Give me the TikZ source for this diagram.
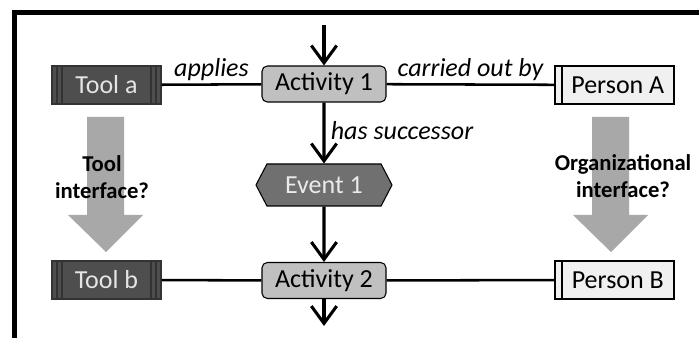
\documentclass[tikz,border=0pt]{standalone}
\usepackage{fontspec}
\setmainfont{Carlito}
\usepackage{tikz}
\usetikzlibrary{shapes.symbols, arrows.meta, positioning}
\definecolor{tooldark}{RGB}{78, 78, 78}
\definecolor{eventgray}{RGB}{112, 112, 112}
\definecolor{actgray}{RGB}{192, 192, 192}
\definecolor{personlight}{RGB}{240, 240, 240}
\definecolor{ifacegray}{RGB}{168, 168, 168}

\begin{document}
\begin{tikzpicture}[
  x=0.75pt, y=-0.75pt,
  font=\fontsize{19.5}{23}\selectfont,
  toolbox/.style={rectangle, draw=black!80, thick, fill=tooldark, text=white!90!black,
                  minimum width=81.75pt, minimum height=28.5pt, inner sep=0pt,
                  path picture={
                    \foreach \dx in {3.75pt, 7.5pt} {
                      \draw[black!80] ([xshift=\dx]path picture bounding box.north west) -- ([xshift=\dx]path picture bounding box.south west);
                      \draw[black!80] ([xshift=-\dx]path picture bounding box.north east) -- ([xshift=-\dx]path picture bounding box.south east);
                    }}},
  activity/.style={rectangle, rounded corners=4pt, draw=black, thick, fill=actgray,
                   minimum width=93pt, minimum height=27pt, inner sep=0pt},
  person/.style={rectangle, draw=black, thick, fill=personlight,
                 minimum width=89.25pt, minimum height=28.5pt, inner sep=0pt,
                 path picture={
                   \draw[black, thick] ([xshift=5.25pt]path picture bounding box.north west) -- ([xshift=5.25pt]path picture bounding box.south west);
                 }},
  event/.style={signal, signal to=west and east, signal pointer angle=125, draw=black, thick, fill=eventgray,
                text=white!92!black, minimum width=102pt, minimum height=31.5pt, inner sep=0pt},
  link/.style={line width=1.9pt},
  flow/.style={line width=2.3pt, -{Straight Barb[length=13pt, width=19pt, line width=2.3pt]}},
  lbl/.style={font=\fontsize{19.5}{23}\selectfont\itshape, inner sep=2pt},
  iface/.style={font=\fontsize{17}{20}\selectfont\bfseries, align=center}
]
\useasboundingbox (0,0) rectangle (699,338);

% Frame
\draw[line width=3.75pt] (14,338) -- (14,12.5) -- (699,12.5);

% Interface arrows
\fill[ifacegray] (87,117) -- (124,117) -- (124,215) -- (143,215) -- (106,252) -- (68,215) -- (87,215) -- cycle;
\fill[ifacegray] (592,117) -- (629,117) -- (629,215) -- (648,215) -- (611,252) -- (573,215) -- (592,215) -- cycle;

% First row
\node[toolbox] (toola) at (106.5,85) {Tool a};
\node[activity] (act1) at (324,84) {Activity 1};
\node[person] (persona) at (614.5,85) {\hspace*{5pt}Person A};

% Event
\node[event] (ev1) at (324,185) {Event 1};

% Second row
\node[toolbox] (toolb) at (106.5,280) {Tool b};
\node[activity] (act2) at (324,280.5) {Activity 2};
\node[person] (personb) at (614.5,280) {\hspace*{5pt}Person B};

% In / out
\coordinate (in) at (324,25);
\coordinate (out) at (324,326);

% Connectors
\draw[link] (toola) -- node[above, lbl] {applies} (act1);
\draw[link] (act1) -- node[above, lbl] {carried out by} (persona);
\draw[link] (toolb) -- (act2);
\draw[link] (act2) -- (personb);

\draw[flow] (in) -- (act1);
\draw[flow] (act1) -- node[right, lbl, xshift=2pt, yshift=2pt] {has successor} (ev1);
\draw[flow] (ev1) -- (act2);
\draw[flow] (act2) -- (out);

% Labels
\node[iface] (toolif) at (102,177) {Tool\\interface?};
\node[iface] (orgif) at (623,176) {Organizational\\interface?};

\end{tikzpicture}
\end{document}
